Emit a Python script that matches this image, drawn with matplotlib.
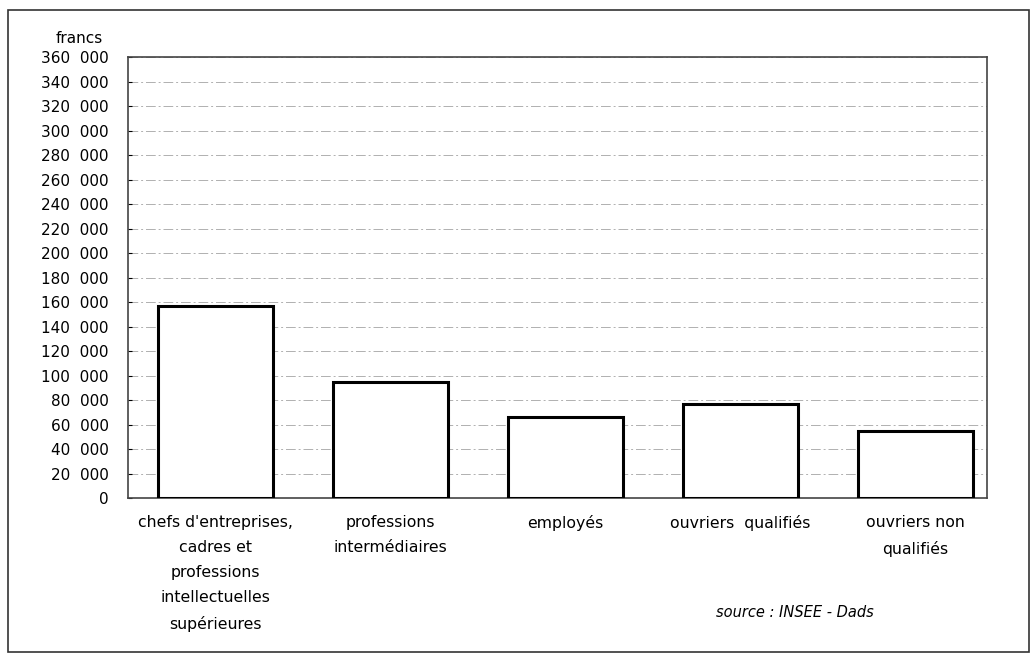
import matplotlib.pyplot as plt
from matplotlib.patches import Rectangle
from matplotlib.ticker import FuncFormatter

categories = ["chefs d'entreprises,\ncadres et\nprofessions\nintellectuelles\nsupérieures",
              "professions\nintermédiaires",
              "employés",
              "ouvriers  qualifiés",
              "ouvriers non\nqualifiés"]
salaires = [157000, 94500, 66400, 76500, 55000]
yticks = list(range(0, 360001, 20000))

plt.rcParams['font.family'] = ['DejaVu Sans']

fig = plt.figure(figsize=(10.35, 6.59), dpi=100)
ax = fig.add_axes([0.1237, 0.2443, 0.8299, 0.6692])

x = range(len(categories))
ax.bar(x, salaires, width=0.66, color='white', edgecolor='black', linewidth=2.2, zorder=3)

ax.set_ylim(0, 360000)
ax.set_xlim(-0.5, 4.41)
ax.set_yticks(yticks)
ax.yaxis.set_major_formatter(FuncFormatter(lambda v, p: '0' if v == 0 else f"{int(v)//1000}  000"))
ax.tick_params(axis='y', direction='in', length=3, labelsize=11, pad=14)
ax.set_xticks([])
ax.grid(axis='y', color='#b0b0b0', linestyle=(0, (10, 3, 2, 3)), linewidth=0.7, zorder=0)
for s in ax.spines.values():
    s.set_color('#444444')
    s.set_linewidth(1.2)

# category labels under bars
for i, lab in enumerate(categories):
    ax.text(i, -13500, lab, ha='center', va='top', fontsize=11.3, linespacing=1.85)

fig.text(0.077, 0.942, 'francs', ha='center', va='center', fontsize=11)
fig.text(0.768, 0.07, 'source : INSEE - Dads', ha='center', va='center',
         fontsize=10.5, style='italic')

fig.patches.append(Rectangle((0.008, 0.011), 0.986, 0.974, transform=fig.transFigure,
                             fill=False, edgecolor='#333333', linewidth=1.2))

fig.savefig('out.png', dpi=100)
